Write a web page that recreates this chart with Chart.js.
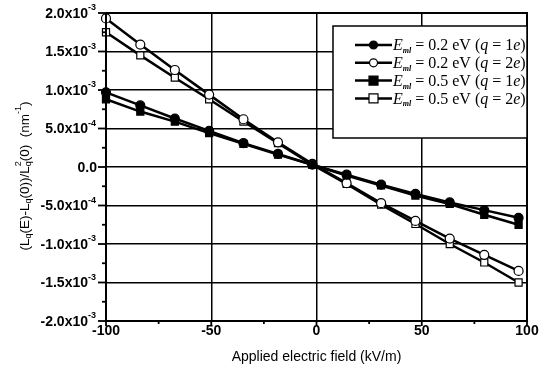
<!DOCTYPE html>
<html>
<head>
<meta charset="utf-8">
<script src="https://cdn.jsdelivr.net/npm/chart.js@4.4.1/dist/chart.umd.min.js"></script>
<style>
	html, body { margin: 0; padding: 0; background: #fff; }
	#wrap { width: 551px; height: 374px; }
</style>
</head>
<body>
<div id="wrap"><canvas id="chart" width="551" height="374"></canvas></div>
<script>
// applied field, kV/m
const fields = [-100, -83.7, -67.3, -51, -34.7, -18.3, -2, 14.3, 30.7, 47, 63.3, 79.7, 96];
// relative change, in units of 1e-3 nm^-1
const em02q1 = [0.97, 0.80, 0.63, 0.47, 0.31, 0.17, 0.03, -0.10, -0.23, -0.35, -0.46, -0.56, -0.66];
const em02q2 = [1.93, 1.59, 1.26, 0.94, 0.62, 0.32, 0.04, -0.21, -0.47, -0.70, -0.93, -1.14, -1.35];
const em05q1 = [0.88, 0.72, 0.59, 0.44, 0.30, 0.16, 0.03, -0.11, -0.24, -0.37, -0.48, -0.62, -0.75];
const em05q2 = [1.75, 1.45, 1.16, 0.88, 0.59, 0.31, 0.03, -0.22, -0.49, -0.74, -1.00, -1.24, -1.50];

const xTicks = [-100, -50, 0, 50, 100];
const xMinor = [-75, -25, 25, 75];
const yTicks = [2, 1.5, 1, 0.5, 0, -0.5, -1, -1.5, -2];
const yTickLabels = [['2.0', '-3'], ['1.5', '-3'], ['1.0', '-3'], ['5.0', '-4'], ['0.0', ''],
	['-5.0', '-4'], ['-1.0', '-3'], ['-1.5', '-3'], ['-2.0', '-3']];

const legendRows = [
	{ val: '0.2', q: '1', marker: 'circle', fill: '#000' },
	{ val: '0.2', q: '2', marker: 'circle', fill: '#fff' },
	{ val: '0.5', q: '1', marker: 'rect', fill: '#000' },
	{ val: '0.5', q: '2', marker: 'rect', fill: '#fff' }
];

const SANS = '"Liberation Sans", Arial, sans-serif';
const SERIF = '"Liberation Serif", "Times New Roman", serif';

const makeSet = (vals, style, fill) => ({
	data: vals.map((v, i) => ({ x: fields[i], y: v })),
	borderColor: '#000',
	borderWidth: 2.5,
	pointStyle: style,
	pointRadius: style === 'rect' ? 5 : 4.5,
	pointBackgroundColor: fill,
	pointBorderColor: '#000',
	pointBorderWidth: 1.2,
	tension: 0,
	clip: false
});

// draws text pieces one after another, some raised or lowered
const runs = (ctx, parts, x, y) => {
	parts.forEach(p => {
		ctx.font = p.font;
		ctx.fillText(p.t, x, y + (p.dy || 0));
		x += ctx.measureText(p.t).width;
	});
	return x;
};
const runsWidth = (ctx, parts) => parts.reduce((w, p) => {
	ctx.font = p.font;
	return w + ctx.measureText(p.t).width;
}, 0);

const decor = {
	id: 'decor',
	afterDraw: chart => {
		const { ctx, chartArea: a, scales: { x, y } } = chart;
		ctx.save();
		ctx.strokeStyle = '#000';
		ctx.fillStyle = '#000';
		ctx.lineWidth = 2;
		ctx.strokeRect(a.left, a.top, a.right - a.left, a.bottom - a.top);

		// y ticks and labels
		ctx.lineWidth = 1.8;
		ctx.textBaseline = 'middle';
		ctx.textAlign = 'left';
		yTicks.forEach((v, i) => {
			const py = y.getPixelForValue(v);
			ctx.beginPath();
			ctx.moveTo(a.left - 8, py);
			ctx.lineTo(a.left, py);
			ctx.stroke();
			const [main, sup] = yTickLabels[i];
			const parts = [{ t: main + (sup ? 'x10' : ''), font: 'bold 14px ' + SANS }];
			if (sup) parts.push({ t: sup, font: 'bold 9px ' + SANS, dy: -6 });
			const w = runsWidth(ctx, parts);
			runs(ctx, parts, (sup ? 96 : 97) - w, py + 1);
		});
		for (let v = -1.75; v < 2; v += 0.5) {
			const py = y.getPixelForValue(v);
			ctx.beginPath();
			ctx.moveTo(a.left - 4, py);
			ctx.lineTo(a.left, py);
			ctx.stroke();
		}

		// x ticks and labels
		ctx.textAlign = 'center';
		ctx.textBaseline = 'top';
		ctx.font = 'bold 14px ' + SANS;
		xTicks.forEach(v => {
			const px = x.getPixelForValue(v);
			ctx.beginPath();
			ctx.moveTo(px, a.bottom);
			ctx.lineTo(px, a.bottom + 5);
			ctx.stroke();
			ctx.fillText(String(v), px, a.bottom + 3);
		});
		xMinor.forEach(v => {
			const px = x.getPixelForValue(v);
			ctx.beginPath();
			ctx.moveTo(px, a.bottom);
			ctx.lineTo(px, a.bottom + 3);
			ctx.stroke();
		});

		// axis titles
		ctx.font = '14px ' + SANS;
		ctx.fillText('Applied electric field (kV/m)', (a.left + a.right) / 2, 350);

		const f = '13.5px ' + SANS, s = '9px ' + SANS;
		const yTitle = [
			{ t: '(L', font: f }, { t: 'q', font: s, dy: 4 }, { t: '(E)-L', font: f }, { t: 'q', font: s, dy: 4 },
			{ t: '(0))/L', font: f }, { t: 'q', font: s, dy: 4 }, { t: '2', font: s, dy: -6 },
			{ t: '(0)  (nm', font: f }, { t: '-1', font: s, dy: -6 }, { t: ')', font: f }
		];
		ctx.save();
		ctx.translate(25, 176);
		ctx.rotate(-Math.PI / 2);
		ctx.textAlign = 'left';
		ctx.textBaseline = 'middle';
		// the last q subscript and the 2 above it share one slot
		const tw = runsWidth(ctx, yTitle.filter((p, i) => i !== 6));
		let cx = -tw / 2;
		yTitle.forEach((p, i) => {
			ctx.font = p.font;
			ctx.fillText(p.t, cx, p.dy || 0);
			if (i !== 5) cx += ctx.measureText(p.t).width;
		});
		ctx.restore();

		// legend box
		const box = { l: 333, t: 26, r: a.right, b: 138 };
		ctx.fillStyle = '#fff';
		ctx.fillRect(box.l, box.t, box.r - box.l, box.b - box.t);
		ctx.lineWidth = 1.5;
		ctx.strokeRect(box.l, box.t, box.r - box.l, box.b - box.t);
		ctx.textAlign = 'left';
		ctx.textBaseline = 'middle';
		legendRows.forEach((row, i) => {
			const ry = 45 + i * 17.8;
			ctx.strokeStyle = '#000';
			ctx.lineWidth = 2.5;
			ctx.beginPath();
			ctx.moveTo(355, ry);
			ctx.lineTo(392, ry);
			ctx.stroke();
			ctx.lineWidth = 1.2;
			ctx.fillStyle = row.fill;
			ctx.beginPath();
			if (row.marker === 'circle') ctx.arc(373.5, ry, 4, 0, Math.PI * 2);
			else ctx.rect(369, ry - 4.5, 9, 9);
			ctx.fill();
			ctx.stroke();
			ctx.fillStyle = '#000';
			const it = 'italic 16px ' + SERIF, rm = '16px ' + SERIF;
			runs(ctx, [
				{ t: 'E', font: it }, { t: 'ml', font: 'italic bold 8px ' + SERIF, dy: 5 },
				{ t: ' = ' + row.val + ' eV (', font: rm }, { t: 'q', font: it },
				{ t: ' = ' + row.q, font: rm }, { t: 'e', font: it }, { t: ')', font: rm }
			], 393, ry + 1);
		});
		ctx.restore();
	}
};

new Chart(document.getElementById('chart'), {
	type: 'line',
	data: {
		datasets: [
			makeSet(em02q1, 'circle', '#000'),
			makeSet(em02q2, 'circle', '#fff'),
			makeSet(em05q1, 'rect', '#000'),
			makeSet(em05q2, 'rect', '#fff')
		]
	},
	options: {
		responsive: false,
		animation: false,
		devicePixelRatio: 1,
		layout: { padding: { left: 0, right: 24, top: 13, bottom: 0 } },
		plugins: { legend: { display: false }, tooltip: { enabled: false } },
		scales: {
			x: {
				type: 'linear',
				min: -100,
				max: 100,
				afterFit: s => { s.height = 53; },
				ticks: { display: false, stepSize: 50 },
				grid: { color: '#000', lineWidth: 1.5, drawTicks: false },
				border: { display: false }
			},
			y: {
				min: -2,
				max: 2,
				afterFit: s => { s.width = 106; },
				ticks: { display: false, stepSize: 0.5 },
				grid: { color: '#000', lineWidth: 1.5, drawTicks: false },
				border: { display: false }
			}
		}
	},
	plugins: [decor]
});
</script>
</body>
</html>
